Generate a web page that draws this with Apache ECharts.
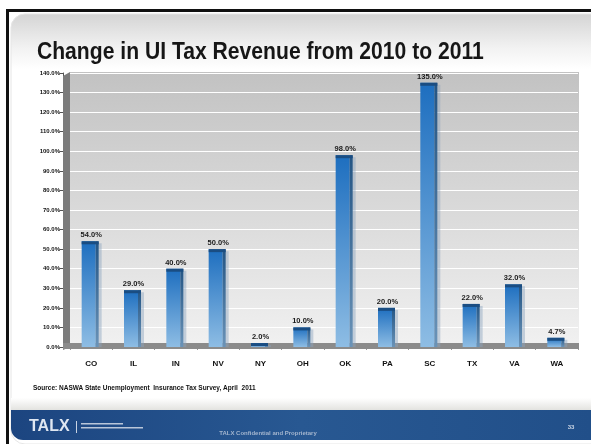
<!DOCTYPE html>
<html>
<head>
<meta charset="utf-8">
<script src="https://cdn.jsdelivr.net/npm/echarts@6/dist/echarts.min.js"></script>
<style>
  html, body { margin: 0; padding: 0; background: #ffffff; }
  #chart { width: 591px; height: 444px; }
</style>
</head>
<body>
<div id="chart"></div>
<script>
// States and year-over-year change in UI tax revenue (%)
const states = ['CO', 'IL', 'IN', 'NV', 'NY', 'OH', 'OK', 'PA', 'SC', 'TX', 'VA', 'WA'];
const changePct = [54.0, 29.0, 40.0, 50.0, 2.0, 10.0, 98.0, 20.0, 135.0, 22.0, 32.0, 4.7];
const yMin = 0, yMax = 140, yStep = 10;

const titleText = 'Change in UI Tax Revenue from 2010 to 2011';
const sourceText = 'Source: NASWA State Unemployment  Insurance Tax Survey, April  2011';
const footerText = 'TALX Confidential and Proprietary';
const pageNo = '33';

const FONT = "'Liberation Sans Narrow', 'Liberation Sans', Arial, sans-serif";

const chart = echarts.init(document.getElementById('chart'), null, { renderer: 'canvas' });

// 3D-looking column: pale drop shadow, gradient front, darker side, dark cap
function renderBar(params, api) {
  const idx = api.value(0);
  const val = api.value(1);
  const top = api.coord([idx, val]);
  const base = api.coord([idx, 0]);
  const w = 17, side = 3;
  const x0 = top[0] - w / 2 - 1;
  const yTop = top[1];
  const yBot = base[1];
  const h = Math.max(yBot - yTop, 1);
  return {
    type: 'group',
    children: [
      { type: 'rect', shape: { x: x0 + 3, y: yTop + 2, width: w, height: h - 2 },
        style: { fill: 'rgba(140,165,190,0.45)' } },
      { type: 'rect', shape: { x: x0, y: yTop, width: w - side, height: h },
        style: { fill: new echarts.graphic.LinearGradient(0, 0, 0, 1, [
          { offset: 0, color: '#1d6ebf' }, { offset: 1, color: '#8ebde4' }]) } },
      { type: 'rect', shape: { x: x0 + w - side, y: yTop, width: side, height: h },
        style: { fill: new echarts.graphic.LinearGradient(0, 0, 0, 1, [
          { offset: 0, color: '#245584' }, { offset: 1, color: '#6a93b8' }]) } },
      { type: 'rect', shape: { x: x0, y: yTop, width: w, height: 3 },
        style: { fill: '#1a4d82' } },
      { type: 'text', x: top[0], y: yTop - 2,
        style: { text: val.toFixed(1) + '%', fill: '#1a1a1a', font: 'bold 7.5px ' + FONT,
                 align: 'center', verticalAlign: 'bottom' } }
    ]
  };
}

const option = {
  animation: false,
  backgroundColor: '#ffffff',
  grid: { left: 70, right: 13, top: 73, bottom: 97, show: false },
  xAxis: {
    type: 'category', data: states,
    axisLine: { show: false },
    axisTick: { show: true, alignWithLabel: false, length: 3, lineStyle: { color: '#999' } },
    axisLabel: { margin: 13, fontFamily: FONT, fontSize: 8, fontWeight: 'bold', color: '#111' }
  },
  yAxis: {
    type: 'value', min: yMin, max: yMax, interval: yStep, offset: 7,
    axisLine: { show: true, lineStyle: { color: '#555', width: 1 } },
    axisTick: { show: true, length: 3, lineStyle: { color: '#555' } },
    splitLine: { show: true, lineStyle: { color: '#ffffff', width: 1 } },
    axisLabel: {
      margin: 3, fontFamily: FONT, fontSize: 6, fontWeight: 'bold', color: '#111',
      formatter: v => v.toFixed(1) + '%'
    }
  },
  series: [{
    type: 'custom', z: 10,
    data: changePct.map((v, i) => [i, v]),
    encode: { x: 0, y: 1 },
    renderItem: renderBar
  }],
  graphic: [
    // page frame
    { type: 'rect', z: -20, shape: { x: 6, y: 9, width: 590, height: 3 }, style: { fill: '#111' } },
    { type: 'rect', z: -20, shape: { x: 6, y: 9, width: 3, height: 440 }, style: { fill: '#111' } },
    { type: 'rect', z: -20, shape: { x: 11, y: 14, width: 590, height: 430, r: [14, 0, 0, 14] },
      style: { fill: new echarts.graphic.LinearGradient(0, 0, 0, 1, [
        { offset: 0, color: '#d4d4d4' }, { offset: 0.08, color: '#f2f2f2' }, { offset: 0.13, color: '#ffffff' },
        { offset: 1, color: '#ffffff' }]), stroke: '#e6e6e6', lineWidth: 1 } },
    // title, set in a condensed face
    { type: 'text', z: 5, x: 33, y: 52, scaleX: 0.88, originX: 33,
      style: { text: titleText, font: 'bold 24px ' + FONT, fill: '#161616', verticalAlign: 'middle' } },
    // back wall, side wall and floor of the plot box
    { type: 'rect', z: -10, shape: { x: 70, y: 72, width: 509, height: 275 },
      style: { fill: new echarts.graphic.LinearGradient(0, 0, 0, 1, [
        { offset: 0, color: '#c2c2c2' }, { offset: 1, color: '#f1f1f1' }]) } },
    { type: 'polygon', z: 1, shape: { points: [[63, 76], [70, 72], [70, 347], [63, 350]] },
      style: { fill: '#7c7c7c' } },
    { type: 'rect', z: 1, shape: { x: 63, y: 343, width: 516, height: 6 }, style: { fill: '#8b8b8b' } },
    // footer band
    { type: 'rect', z: 1, shape: { x: 11, y: 398, width: 580, height: 12 },
      style: { fill: new echarts.graphic.LinearGradient(0, 0, 0, 1, [
        { offset: 0, color: '#ffffff' }, { offset: 1, color: '#e3e3e0' }]) } },
    { type: 'rect', z: 1, shape: { x: 11, y: 410, width: 580, height: 30, r: [0, 0, 0, 12] },
      style: { fill: new echarts.graphic.LinearGradient(0, 0, 1, 0, [
        { offset: 0, color: '#1c4580' }, { offset: 0.5, color: '#285892' }, { offset: 1, color: '#214f89' }]) } },
    { type: 'text', z: 2, x: 29, y: 427,
      style: { text: 'TALX', font: 'bold 16px ' + FONT, fill: '#dfe7f2', verticalAlign: 'middle' } },
    { type: 'rect', z: 2, shape: { x: 76, y: 421, width: 1, height: 12 }, style: { fill: '#c8d3e3' } },
    { type: 'rect', z: 2, shape: { x: 81, y: 423, width: 42, height: 1.5 }, style: { fill: '#b9c6d9' } },
    { type: 'rect', z: 2, shape: { x: 81, y: 427, width: 62, height: 1.5 }, style: { fill: '#b9c6d9' } },
    { type: 'text', z: 2, x: 268, y: 433,
      style: { text: footerText, font: 'bold 6px ' + FONT, fill: '#a3b5ce', align: 'center', verticalAlign: 'middle' } },
    { type: 'text', z: 2, x: 571, y: 427,
      style: { text: pageNo, font: 'bold 6px ' + FONT, fill: '#c9d4e4', align: 'center', verticalAlign: 'middle' } },
    // source note
    { type: 'text', z: 2, x: 33, y: 388,
      style: { text: sourceText, font: 'bold 6.5px ' + FONT, fill: '#111', verticalAlign: 'middle' } }
  ]
};

chart.setOption(option);
</script>
</body>
</html>
